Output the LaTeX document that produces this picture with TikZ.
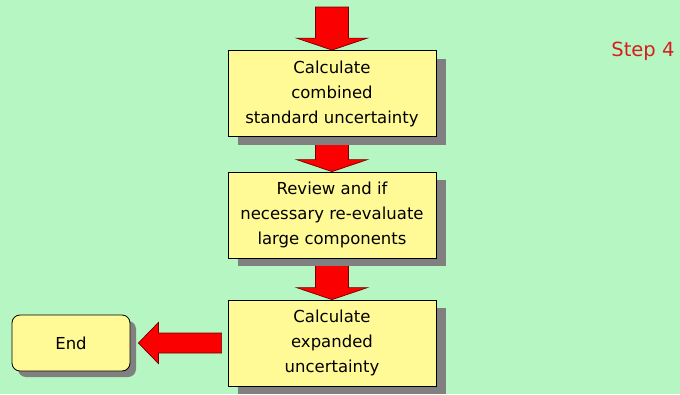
\documentclass[tikz,border=0pt]{standalone}
\usepackage{fontspec}
\setmainfont{DejaVu Sans}
\usetikzlibrary{calc,shadows,backgrounds}
\definecolor{bggreen}{RGB}{182,246,194}
\definecolor{boxyellow}{RGB}{255,249,150}
\definecolor{arrowred}{RGB}{250,0,0}
\definecolor{steptext}{RGB}{215,30,30}
\tikzset{
  stepbox/.style={draw=black,line width=0.8pt,fill=boxyellow,minimum width=208pt,minimum height=86pt,
    align=center,font=\fontsize{16.5}{25}\selectfont,
    drop shadow={shadow xshift=10pt,shadow yshift=-8pt,fill=black!50,opacity=1}},
  endbox/.style={draw=black,line width=0.8pt,fill=boxyellow,rounded corners=8pt,minimum width=118pt,minimum height=56pt,
    font=\fontsize{16.5}{25}\selectfont,
    drop shadow={shadow xshift=6pt,shadow yshift=-6pt,fill=black!50,opacity=1}},
  redarrow/.style={fill=arrowred,draw=black!55!red,line width=0.7pt,line join=miter}
}
\newcommand{\downblock}[2]{%
  \path[redarrow] ($(#1)+(-16.5pt,0)$) -- ($(#2)+(-16.5pt,12pt)$) -- ($(#2)+(-35.5pt,12pt)$) -- (#2)
    -- ($(#2)+(35.5pt,12pt)$) -- ($(#2)+(16.5pt,12pt)$) -- ($(#1)+(16.5pt,0)$) -- cycle;}
\begin{document}
\begin{tikzpicture}[x=1pt,y=-1pt]
\useasboundingbox (0,0) rectangle (680,394);
\coordinate (start) at (332,7);
\node[stepbox] (combined) at (332,93.5) {Calculate\\combined\\standard uncertainty};
\node[stepbox] (review) at (332,215) {Review and if\\necessary re-evaluate\\large components};
\node[stepbox] (expanded) at (332,343) {Calculate\\expanded\\uncertainty};
\node[endbox] (finish) at (71,343) {End};
\node[text=steptext,font=\fontsize{19.5}{22}\selectfont,anchor=east] (stepfour) at (678,51) {Step 4};
\begin{scope}[on background layer]
\fill[bggreen] (0,0) rectangle (680,394);
\downblock{start}{combined.north}
\downblock{combined.south}{review.north}
\downblock{review.south}{expanded.north}
\path[redarrow] ($(expanded.west)+(-6pt,10pt)$) -- ($(finish.east)+(28pt,10pt)$) -- ($(finish.east)+(28pt,20.5pt)$)
  -- ($(finish.east)+(8pt,0)$) -- ($(finish.east)+(28pt,-20.5pt)$) -- ($(finish.east)+(28pt,-10pt)$)
  -- ($(expanded.west)+(-6pt,-10pt)$) -- cycle;
\end{scope}
\end{tikzpicture}
\end{document}
